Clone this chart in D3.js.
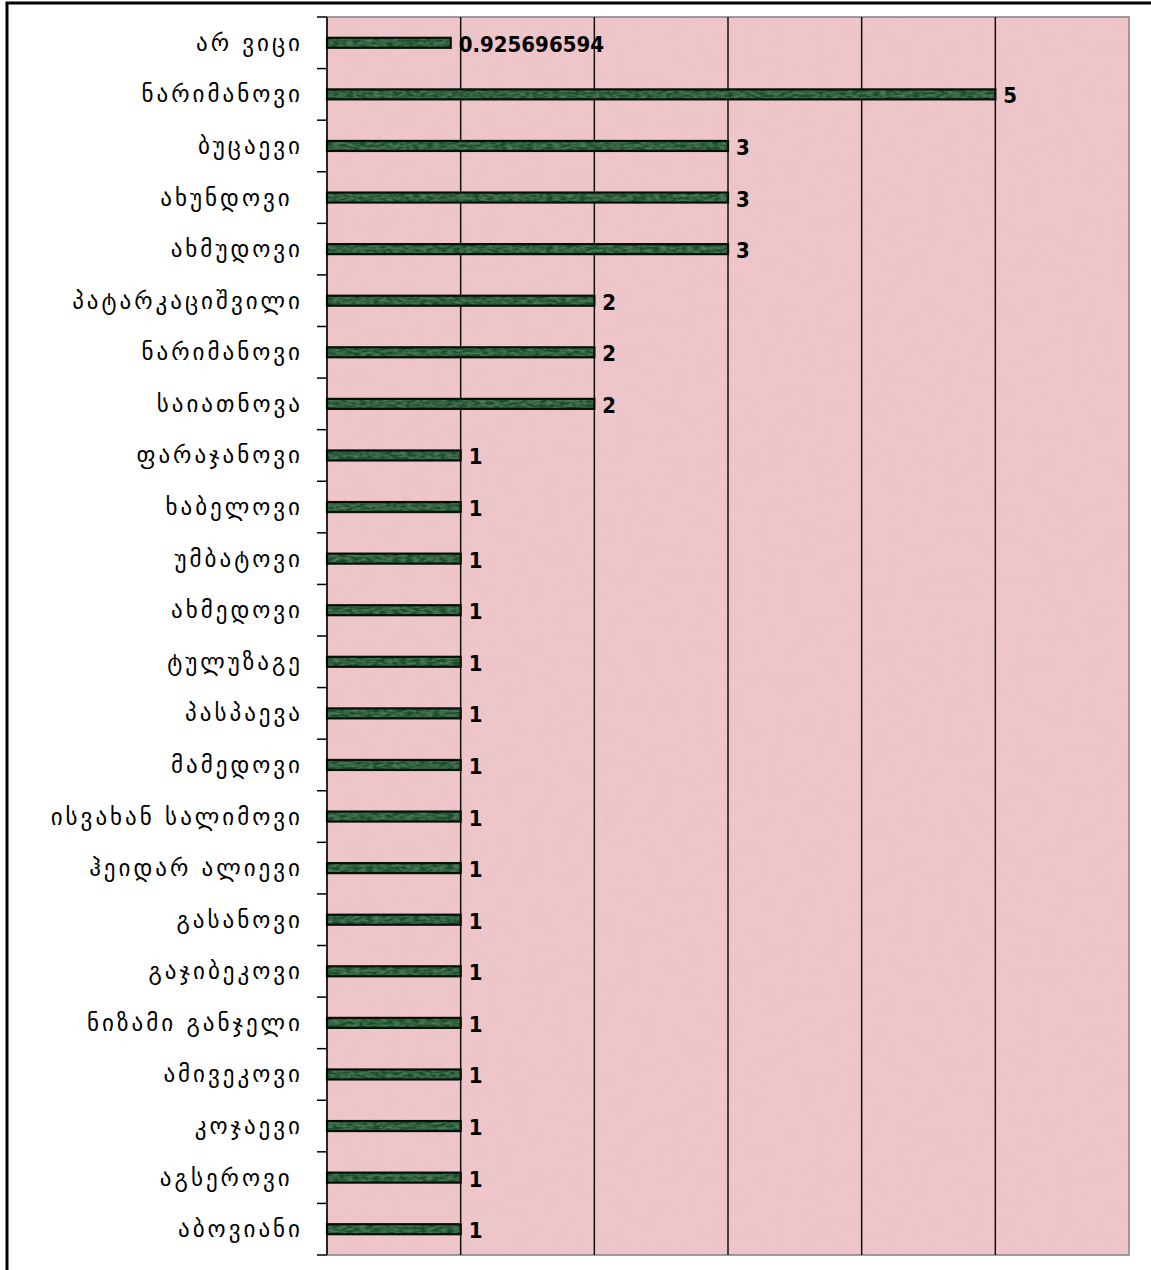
<!DOCTYPE html>
<html><head><meta charset="utf-8">
<script src="https://cdn.jsdelivr.net/npm/d3@7"></script>
<style>html,body{margin:0;padding:0;background:#fff;}svg{display:block;}</style>
</head><body>
<svg id="chart" width="1151" height="1270"></svg>
<script>
const categories = ["არ ვიცი","ნარიმანოვი","ბუცაევი","ახუნდოვი ","ახმუდოვი","პატარკაციშვილი","ნარიმანოვი","საიათნოვა","ფარაჯანოვი","ხაბელოვი","უმბატოვი","ახმედოვი","ტულუზაგე","პასპაევა","მამედოვი","ისვახან სალიმოვი","ჰეიდარ ალიევი","გასანოვი","გაჯიბეკოვი","ნიზამი განჯელი","ამივეკოვი","კოჯაევი","აგსეროვი ","აბოვიანი"];
const values = [0.925696594,5,3,3,3,2,2,2,1,1,1,1,1,1,1,1,1,1,1,1,1,1,1,1];
const valueLabels = ["0.925696594","5","3","3","3","2","2","2","1","1","1","1","1","1","1","1","1","1","1","1","1","1","1","1"];
const xTicks = [0,1,2,3,4,5,6];

const svg = d3.select("#chart");
const m = {left:327, top:17, right:1129, bottom:1255};
const x = d3.scaleLinear().domain([0,6]).range([m.left, m.right]);
const y = d3.scaleBand().domain(d3.range(categories.length)).range([m.top, m.bottom]);

const defs = svg.append("defs");
const f = defs.append("filter").attr("id","tex").attr("x",0).attr("y",0).attr("width","100%").attr("height","100%");
f.append("feTurbulence").attr("type","fractalNoise").attr("baseFrequency","0.07").attr("numOctaves",3).attr("seed",4).attr("result","n");
f.append("feColorMatrix").attr("in","n").attr("type","matrix")
 .attr("values","0 0 0 0 0.78  0 0 0 0 0.52  0 0 0 0 0.56  0 0 0 0.45 -0.1").attr("result","c");
f.append("feComposite").attr("in","c").attr("in2","SourceGraphic").attr("operator","atop");

const g2 = defs.append("filter").attr("id","btex").attr("x",0).attr("y",0).attr("width","100%").attr("height","100%");
g2.append("feTurbulence").attr("type","fractalNoise").attr("baseFrequency","0.15 0.4").attr("numOctaves",2).attr("seed",7).attr("result","n");
g2.append("feColorMatrix").attr("in","n").attr("type","matrix")
 .attr("values","0 0 0 0 0.25  0 0 0 0 0.50  0 0 0 0 0.30  0 0 0 0.6 -0.2").attr("result","c");
g2.append("feComposite").attr("in","c").attr("in2","SourceGraphic").attr("operator","atop");

// outer frame
svg.append("path").attr("d","M7,1270 V3 H1151").attr("fill","none").attr("stroke","#000").attr("stroke-width",3);

// plot background
svg.append("rect").attr("x",m.left).attr("y",m.top).attr("width",m.right-m.left).attr("height",m.bottom-m.top)
 .attr("fill","#efc6c9").attr("filter","url(#tex)");
svg.append("rect").attr("x",m.left).attr("y",m.top).attr("width",m.right-m.left).attr("height",m.bottom-m.top)
 .attr("fill","none").attr("stroke","#808080").attr("stroke-width",1.5);

// gridlines
svg.append("g").selectAll("line").data(xTicks.filter(d=>d>0 && d<6)).join("line")
 .attr("x1",d=>x(d)).attr("x2",d=>x(d)).attr("y1",m.top).attr("y2",m.bottom)
 .attr("stroke","#111").attr("stroke-width",1.5);

// bars
const bh = 10;
svg.append("g").selectAll("rect").data(values).join("rect")
 .attr("x",x(0)).attr("y",(d,i)=>y(i)+y.bandwidth()/2-bh/2)
 .attr("width",d=>x(d)-x(0)).attr("height",bh)
 .attr("fill","#17502a").attr("filter","url(#btex)");
svg.append("g").selectAll("rect").data(values).join("rect")
 .attr("x",x(0)).attr("y",(d,i)=>y(i)+y.bandwidth()/2-bh/2)
 .attr("width",d=>x(d)-x(0)).attr("height",bh)
 .attr("fill","none").attr("stroke","#061008").attr("stroke-width",2.2);

// value labels
svg.append("g").selectAll("text").data(valueLabels).join("text")
 .attr("x",(d,i)=>x(values[i])+8).attr("y",(d,i)=>y(i)+y.bandwidth()/2+9)
 .attr("font-family","DejaVu Sans Condensed, DejaVu Sans").attr("font-weight","bold")
 .attr("font-size",22).attr("fill","#000").text(d=>d);

// category axis
const axis = svg.append("g");
axis.append("line").attr("x1",m.left).attr("x2",m.left).attr("y1",m.top).attr("y2",m.bottom).attr("stroke","#000").attr("stroke-width",1.5);
const bounds = d3.range(categories.length+1).map(i=> i<categories.length ? y(i) : m.bottom);
axis.selectAll("line.t").data(bounds).join("line").attr("class","t")
 .attr("x1",m.left-10).attr("x2",m.left).attr("y1",d=>d).attr("y2",d=>d).attr("stroke","#000").attr("stroke-width",1.5);
axis.selectAll("text").data(categories).join("text")
 .attr("x",m.left-24).attr("y",(d,i)=>y(i)+y.bandwidth()/2+8)
 .attr("text-anchor","end").attr("font-family","DejaVu Sans").attr("font-size",23)
 .attr("letter-spacing","3px").attr("fill","#000")
 .attr("xml:space","preserve").style("white-space","pre").text(d=>d);
</script>
</body></html>
